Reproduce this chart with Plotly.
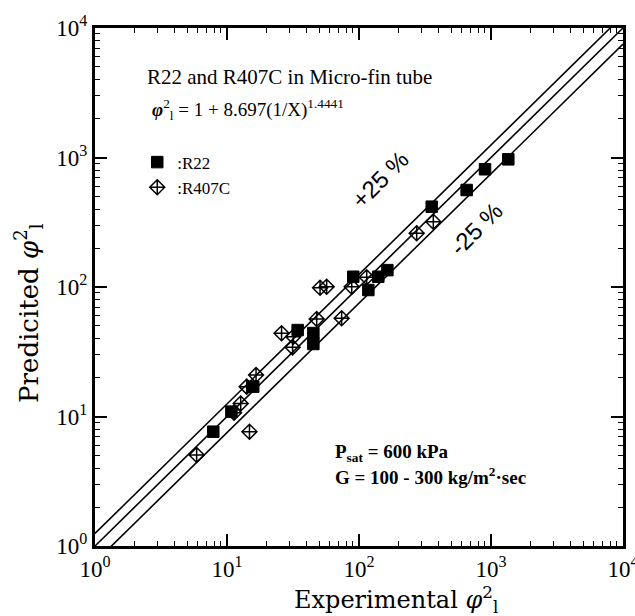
import plotly.graph_objects as go

# R22 (filled squares): experimental, predicted
r22_exp = [7.87, 10.8, 15.8, 34.3, 45.1, 45.1, 90.5, 117.7, 140, 164, 355.6, 654, 901, 1352]
r22_pred = [7.63, 10.9, 17.0, 46.5, 44.1, 36.3, 120, 94.8, 120, 135, 417, 561, 811, 968]

# R407C (crossed diamonds)
r407c_exp = [5.89, 11.3, 12.7, 14.8, 14.1, 16.6, 25.9, 31.8, 31.4, 47.8, 50.7, 56.9, 73.9, 88.1, 114.4, 273.5, 365.6]
r407c_pred = [5.04, 10.7, 12.6, 7.63, 17.0, 20.9, 43.9, 41.3, 34.2, 56.6, 98.8, 100.5, 57.3, 100.5, 118.8, 260, 319]

# reference lines: y = x, +25 %, -25 %
line_x = [1, 10000]
line_factors = [1.0, 1.25, 0.75]

major_vals = [1, 10, 100, 1000, 10000]
major_text = ["10<sup>0</sup>", "10<sup>1</sup>", "10<sup>2</sup>", "10<sup>3</sup>", "10<sup>4</sup>"]
minor_vals = [k * 10 ** d for d in range(4) for k in range(2, 10)]

SERIF = "Liberation Serif"
WIDE_SERIF = "DejaVu Serif"
SANS = "Liberation Sans"

fig = go.Figure()
for f in line_factors:
    fig.add_trace(go.Scatter(x=line_x, y=[f * v for v in line_x], mode="lines",
                             line=dict(color="black", width=1.6), showlegend=False,
                             hoverinfo="skip"))

fig.add_trace(go.Scatter(x=r22_exp, y=r22_pred, mode="markers", name=":R22",
                         marker=dict(symbol="square", size=11.5, color="black",
                                     line=dict(color="black", width=1))))
fig.add_trace(go.Scatter(x=r407c_exp, y=r407c_pred, mode="markers", name=":R407C",
                         marker=dict(symbol="diamond-cross-open", size=11.5, color="black",
                                     line=dict(color="black", width=1.5))))

axis_common = dict(
    type="log", range=[0, 4], tickmode="array", tickvals=major_vals, ticktext=major_text,
    ticks="inside", ticklen=12, tickwidth=1.5, tickcolor="black",
    minor=dict(tickmode="array", tickvals=minor_vals, ticks="inside", ticklen=5,
               tickwidth=1.2, tickcolor="black", showgrid=False),
    showline=True, linecolor="black", linewidth=3, mirror="ticks",
    showgrid=False, zeroline=False, ticklabeloverflow="allow", automargin=False,
    tickfont=dict(family=SERIF, size=23, color="black"),
)

fig.update_layout(
    width=635, height=616,
    margin=dict(l=95, r=12, t=28, b=70),
    paper_bgcolor="white", plot_bgcolor="white",
    xaxis=dict(axis_common),
    yaxis=dict(axis_common),
    legend=dict(x=0.08, y=0.775, xanchor="left", yanchor="top", bgcolor="rgba(0,0,0,0)",
                font=dict(family=SERIF, size=17, color="black")),
    showlegend=True,
)

# axis titles
fig.add_annotation(x=0.57, y=-0.103, xref="paper", yref="paper",
                   text="Experimental <i>φ</i><sup>2</sup><sub>l</sub>", showarrow=False,
                   xanchor="center", yanchor="middle",
                   font=dict(family=WIDE_SERIF, size=24, color="black"))
fig.add_annotation(x=-0.125, y=0.45, xref="paper", yref="paper",
                   text="Predicited <i>φ</i><sup>2</sup><sub>l</sub>", showarrow=False, textangle=-90,
                   xanchor="center", yanchor="middle",
                   font=dict(family=WIDE_SERIF, size=26, color="black"))

ann = [
    dict(x=0.0947, y=0.905, text="R22 and R407C in Micro-fin tube", size=21),
    dict(x=0.104, y=0.842, text="<b><i>φ</i></b><sup>2</sup><sub>l</sub> = 1 + 8.697(1/X)<sup>1.4441</sup>", size=19),
    dict(x=0.451, y=0.180, text="<b>P<sub>sat</sub> = 600 kPa</b>", size=19),
    dict(x=0.451, y=0.135, text="<b>G = 100 - 300 kg/m<sup>2</sup>·sec</b>", size=19),
]
for a in ann:
    fig.add_annotation(x=a["x"], y=a["y"], xref="paper", yref="paper", text=a["text"],
                       showarrow=False, xanchor="left", yanchor="middle",
                       font=dict(family=SERIF, size=a["size"], color="black"))

fig.add_annotation(x=0.540, y=0.707, xref="paper", yref="paper", text="+25 %", textangle=-45,
                   showarrow=False, xanchor="center", yanchor="middle",
                   font=dict(family=SANS, size=24, color="black"))
fig.add_annotation(x=0.723, y=0.612, xref="paper", yref="paper", text="-25 %", textangle=-45,
                   showarrow=False, xanchor="center", yanchor="middle",
                   font=dict(family=SANS, size=24, color="black"))

fig.write_html("out.html")
